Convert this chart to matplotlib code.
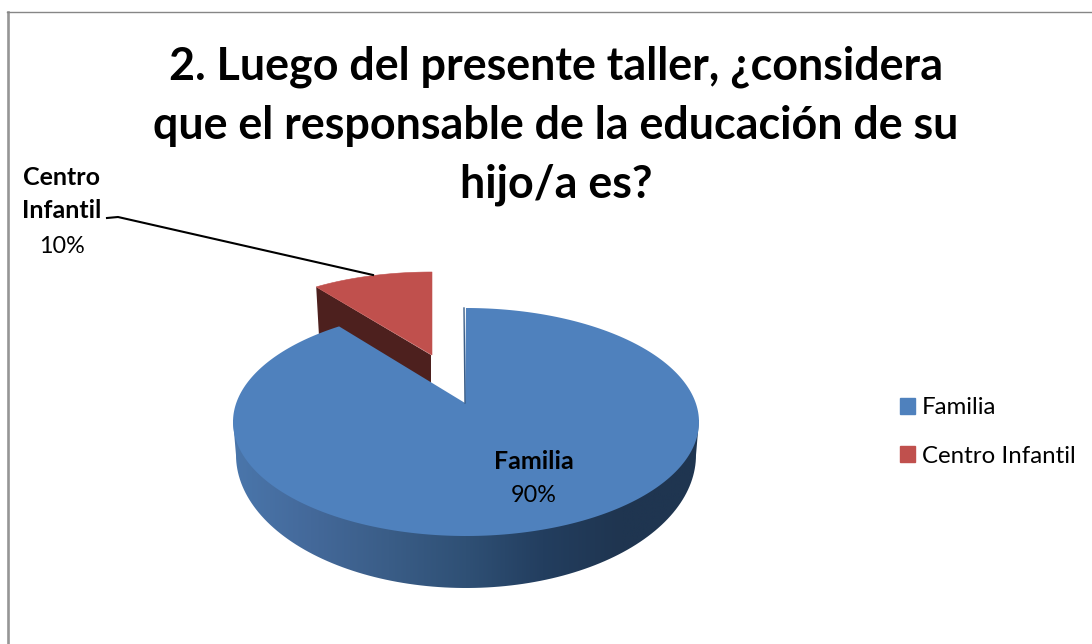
import numpy as np
import matplotlib
matplotlib.use('Agg')
import matplotlib.pyplot as plt
import matplotlib.patches as mpatches
from matplotlib.colors import LinearSegmentedColormap

# Data
categories = ['Familia', 'Centro Infantil']
values = [90, 10]
colors = ['#4f81bd', '#c0504d']
title = '2. Luego del presente taller, ¿considera\nque el responsable de la educación de su\nhijo/a es?'

plt.rcParams['font.family'] = ['Lato', 'DejaVu Sans']
W, H = 1092, 644


def arc(cx, cy, rx, ry, t0, t1, n=120):
    # angles in degrees, clockwise from 12 o'clock
    t = np.radians(np.linspace(t0, t1, n))
    return np.column_stack([cx + rx * np.sin(t), cy - ry * np.cos(t)])


fig = plt.figure(figsize=(W / 100, H / 100), dpi=100)
ax = fig.add_axes([0, 0, 1, 1])
ax.set_axis_off()

# slice angles from the values
ends = np.cumsum(values) / sum(values) * 360
blue_end = ends[0]

# frame of the chart area
ax.plot([8, 8], [H, 12], color='#969696', lw=1.9)
ax.plot([7, W], [12, 12], color='#868686', lw=1.0)

# exploded slice: side first, then top
red_top = arc(432, 350, 197, 78, blue_end, 360)
side = np.array([red_top[0], [431, 355], [431, 386], [319, 336]])
ax.add_patch(mpatches.Polygon(side, closed=True, fc='#4d201e', ec='none'))
ax.add_patch(mpatches.Polygon(np.vstack([[[432, 355]], red_top]), closed=True,
                              fc=colors[1], ec=colors[1], lw=0.4))

# side wall of the big slice with a horizontal gradient
wall = np.vstack([[[233, 420]], arc(466, 455, 230, 133, 270, 90), [[699, 420]]])
wall_patch = mpatches.Polygon(wall, closed=True, fc='none', ec='none')
ax.add_patch(wall_patch)
cmap = LinearSegmentedColormap.from_list(
    'wall', ['#4a76ab', '#44699a', '#3a5d87', '#2f5075', '#233e5f', '#1f3550', '#1f3550'])
im = ax.imshow(np.linspace(0, 1, 256)[None, :], cmap=cmap, extent=[233, 699, 590, 400],
               aspect='auto', zorder=1)
im.set_clip_path(wall_patch)

# top of the big slice (3 deg of perspective skew at the far edge)
blue_top = arc(466, 422, 233, 114, 0, blue_end + 3, 300)
ax.add_patch(mpatches.Polygon(np.vstack([[[465, 403]], blue_top]), closed=True,
                              fc=colors[0], ec='none', zorder=2))
ax.plot([464, 465], [308, 403], color='#3a5d87', lw=1, zorder=2)

# labels
ax.text(556, 126, title, ha='center', va='center', fontsize=32.3, fontweight='bold',
        linespacing=1.49, color='black')
ax.text(62, 194, 'Centro\nInfantil', ha='center', va='center', fontsize=18,
        fontweight='bold', linespacing=1.57, color='black')
ax.text(62, 246, f'{values[1]}%', ha='center', va='center', fontsize=16.8, color='black')
ax.text(534, 461, categories[0], ha='center', va='center', fontsize=18,
        fontweight='bold', color='black', zorder=3)
ax.text(534, 495, f'{values[0]}%', ha='center', va='center', fontsize=16.8,
        color='black', zorder=3)
ax.plot([107, 118, 373], [218, 217, 275], color='black', lw=1.5, zorder=3)

# legend
handles = [mpatches.Patch(color=c, label=n) for c, n in zip(colors, categories)]
ax.legend(handles=handles, loc='center left', bbox_to_anchor=(900 / W, 1 - 432 / H),
          frameon=False, fontsize=17.3, handlelength=0.62, handleheight=0.62,
          handletextpad=0.3, labelspacing=1.13, borderpad=0, borderaxespad=0)

ax.set_xlim(0, W)
ax.set_ylim(H, 0)
fig.savefig('out.png', dpi=100, facecolor='white')
